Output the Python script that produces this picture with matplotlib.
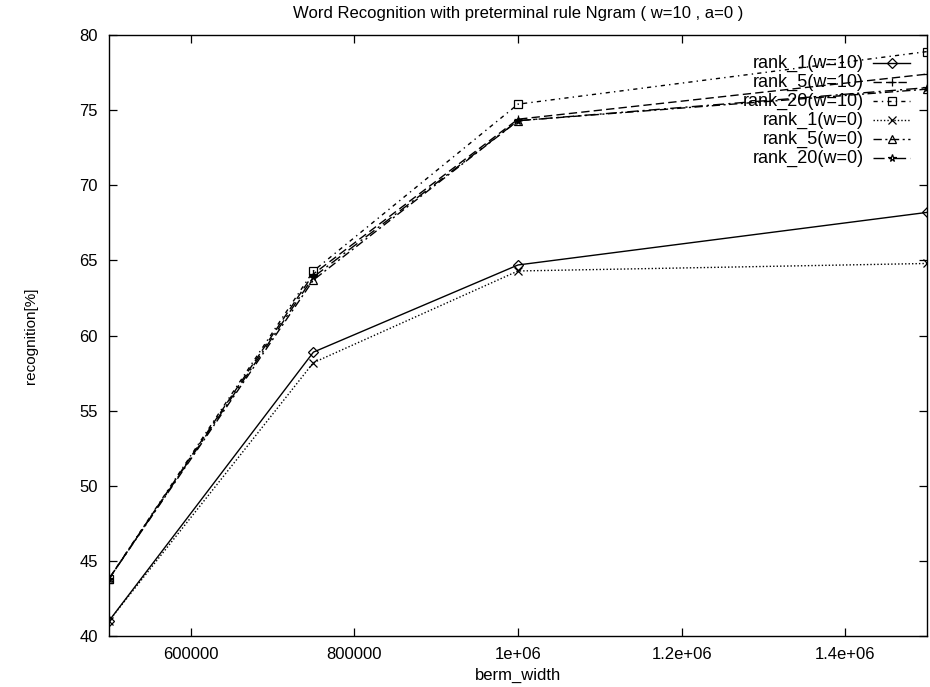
import numpy as np
import matplotlib
matplotlib.use("Agg")
import matplotlib.pyplot as plt

plt.rcParams['font.family'] = ['Liberation Sans', 'DejaVu Sans']

# berm width (x) and recognition rates per series
berm_width = [500000, 750000, 1000000, 1500000]
labels = ['rank_1(w=10)', 'rank_5(w=10)', 'rank_20(w=10)',
          'rank_1(w=0)', 'rank_5(w=0)', 'rank_20(w=0)']
rank1_w10 = [41.0, 58.9, 64.7, 68.2]
rank5_w10 = [43.8, 64.1, 74.4, 77.4]
rank20_w10 = [43.8, 64.3, 75.4, 78.9]
rank1_w0 = [41.0, 58.2, 64.3, 64.8]
rank5_w0 = [43.8, 63.7, 74.3, 76.4]
rank20_w0 = [43.8, 63.9, 74.3, 76.5]

xticks = [600000, 800000, 1000000, 1200000, 1400000]
xticklabels = ['600000', '800000', '1e+06', '1.2e+06', '1.4e+06']
yticks = [40, 45, 50, 55, 60, 65, 70, 75, 80]

# gnuplot-like monochrome styles: (dash pattern, marker)
styles = [
    (None, 'D'),
    ((0, (6, 3)), '+'),
    ((0, (3, 3, 1, 3)), 's'),
    ((0, (1, 1.5)), 'x'),
    ((0, (6, 2.5, 1.5, 2.5)), '^'),
    ((0, (8, 3, 1.5, 3)), '*'),
]
series = [rank1_w10, rank5_w10, rank20_w10, rank1_w0, rank5_w0, rank20_w0]

fig = plt.figure(figsize=(9.30, 6.87), dpi=100)
ax = fig.add_axes([0.117, 0.074, 0.880, 0.875])

for vals, (ls, mk) in zip(series, styles):
    ax.plot(berm_width, vals, color='black', lw=1.0,
            linestyle='-' if ls is None else ls,
            marker=mk, markersize=5.5, markerfacecolor='none',
            markeredgewidth=0.9)

ax.set_xlim(500000, 1500000)
ax.set_ylim(40, 80)
ax.set_xticks(xticks)
ax.set_xticklabels(xticklabels)
ax.set_yticks(yticks)
ax.tick_params(direction='in', top=True, right=True, length=6,
               labelsize=12, pad=8, width=0.9)
for s in ax.spines.values():
    s.set_linewidth(1.0)

ax.set_title('Word Recognition with preterminal rule Ngram ( w=10 , a=0 )',
             fontsize=12, pad=12)
ax.set_xlabel('berm_width', fontsize=12, labelpad=4)
ax.set_ylabel('recognition[%]', fontsize=11)
ax.yaxis.set_label_coords(-0.087, 0.5)

# gnuplot style key: right aligned text, then line sample with marker
x_text, x0, x1, xm = 0.923, 0.934, 0.979, 0.957
y_top, dy = 0.953, 0.0316
for i, (lab, (ls, mk)) in enumerate(zip(labels, styles)):
    y = y_top - i * dy
    ax.text(x_text, y, lab, transform=ax.transAxes, ha='right',
            va='center', fontsize=13)
    ax.plot([x0, x1], [y, y], transform=ax.transAxes, color='black',
            lw=1.0, linestyle='-' if ls is None else ls, clip_on=False)
    ax.plot([xm], [y], transform=ax.transAxes, color='black', marker=mk,
            markersize=5.5, markerfacecolor='none', markeredgewidth=0.9,
            clip_on=False)

fig.savefig('out.png', dpi=100)
